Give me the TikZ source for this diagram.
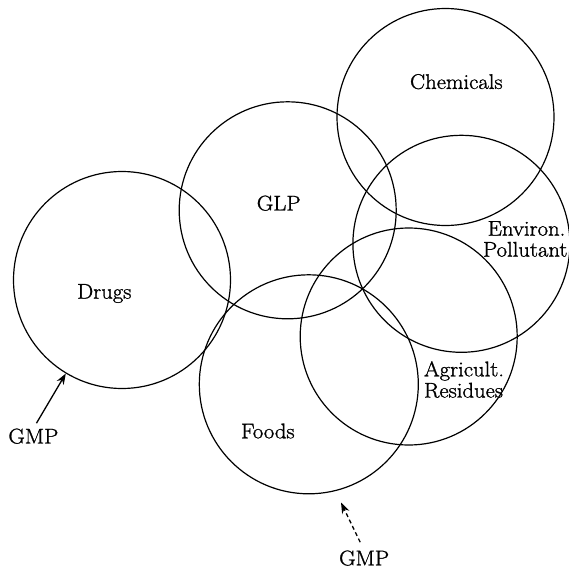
\documentclass[tikz,border=0pt]{standalone}
\usepackage{fontspec}
\setmainfont{Latin Modern Roman}[FakeStretch=1.07,FakeBold=1.2]
\usetikzlibrary{arrows.meta}
\begin{document}
\begin{tikzpicture}[x=1pt,y=-1pt,
  ring/.style={draw, circle, line width=1.2pt, minimum size=217pt, inner sep=0pt},
  lbl/.style={inner sep=0pt, anchor=base, font=\fontsize{21.2}{24}\selectfont},
  lblw/.style={inner sep=0pt, anchor=base west, font=\fontsize{21.2}{24}\selectfont},
  gmparrow/.style={line width=1.3pt, -{Stealth[length=11pt,width=8pt]}}
]
\useasboundingbox (0,0) rectangle (569,570);
% circles
\node[ring] (drugs) at (122,280) {};
\node[ring] (glp) at (287.7,210.3) {};
\node[ring] (chem) at (445.5,117) {};
\node[ring] (env) at (461.4,243.8) {};
\node[ring] (agri) at (408.7,336.5) {};
\node[ring, minimum size=219pt] (foods) at (308.8,384.3) {};
% labels
\node[lbl] (tchem) at (456.3,88.9) {Chemicals};
\node[lbl] (tglp) at (278.7,210.4) {GLP};
\node[lbl] (tdrugs) at (104.3,298.6) {Drugs};
\node[lbl] (tenv1) at (526.5,235.6) {Environ.};
\node[lbl] (tenv2) at (525.2,256.6) {Pollutant};
\node[lblw] (tagr1) at (423.8,376.3) {Agricult.};
\node[lblw] (tagr2) at (423.8,397.5) {Residues};
\node[lbl] (tfoods) at (267.8,438.3) {Foods};
\node[lbl] (gmpL) at (33.4,443.4) {GMP};
\node[lbl] (gmpB) at (364.1,565.3) {GMP};
% arrows
\coordinate (tipB) at (341,502.5);
\draw[gmparrow, shorten <=6pt] (gmpL.north) -- (drugs.239);
\draw[gmparrow, dash pattern=on 4pt off 3pt, shorten <=9pt] (gmpB.north) -- (tipB);
\end{tikzpicture}
\end{document}
